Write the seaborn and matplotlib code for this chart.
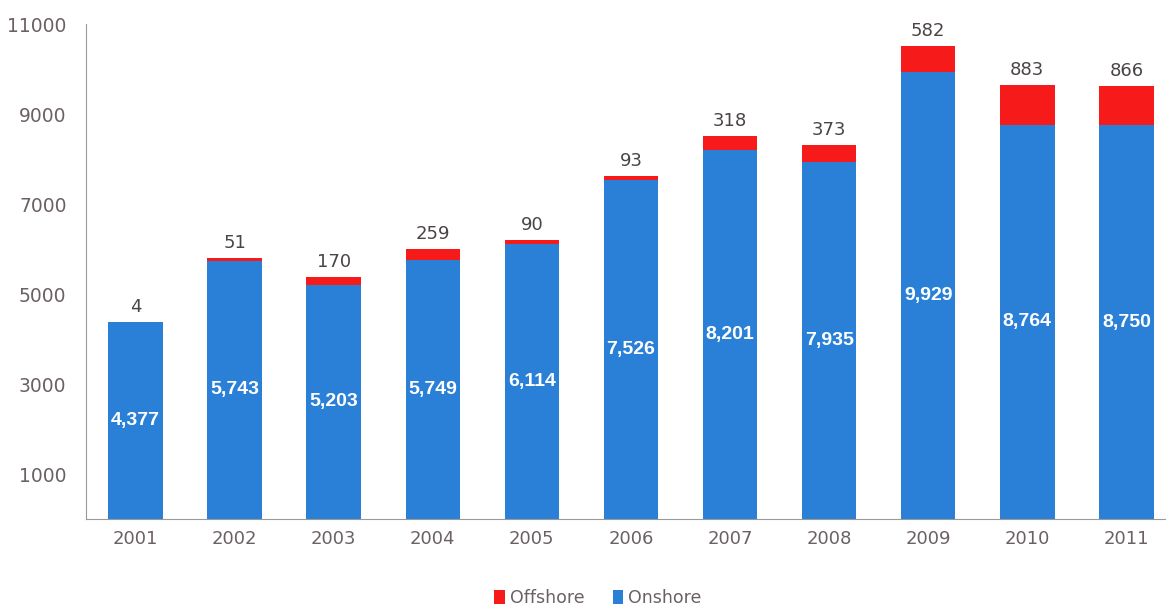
import matplotlib
matplotlib.use("Agg")
import matplotlib.pyplot as plt
import seaborn as sns
import pandas as pd
from matplotlib.patches import Patch
from matplotlib import font_manager

years = ["2001", "2002", "2003", "2004", "2005", "2006", "2007", "2008", "2009", "2010", "2011"]
onshore = [4377, 5743, 5203, 5749, 6114, 7526, 8201, 7935, 9929, 8764, 8750]
offshore = [4, 51, 170, 259, 90, 93, 318, 373, 582, 883, 866]
y_ticks = [1000, 3000, 5000, 7000, 9000, 11000]

BLUE = "#2a80d6"
RED = "#f71a1a"
GREY = "#6b6163"

sns.set_theme(style="white")
plt.rcParams["font.family"] = ["DejaVu Sans"]

installed = {f.name for f in font_manager.fontManager.ttflist}
inner_family = "Liberation Sans Narrow" if "Liberation Sans Narrow" in installed else "Liberation Sans"

df = pd.DataFrame({"year": years, "onshore": onshore, "offshore": offshore})
df["total"] = df["onshore"] + df["offshore"]

fig = plt.figure(figsize=(11.66, 6.08), dpi=100)
ax = fig.add_axes([86 / 1166, 89 / 608, 1 - 86 / 1166, (519 - 24) / 608])

sns.barplot(data=df, x="year", y="total", color=RED, width=0.55, ax=ax,
            saturation=1, edgecolor="none", linewidth=0)
sns.barplot(data=df, x="year", y="onshore", color=BLUE, width=0.55, ax=ax,
            saturation=1, edgecolor="none", linewidth=0)

ax.set_ylim(0, 11000)
ax.set_xlim(-0.5, 10.4)
ax.set_yticks(y_ticks)
ax.set_yticklabels([str(v) for v in y_ticks], color=GREY, fontsize=13.5)
ax.set_xticks(range(len(years)))
ax.set_xticklabels(years, color=GREY, fontsize=13)
ax.set_xlabel("")
ax.set_ylabel("")

# category boundary ticks on the x axis
ax.set_xticks([i + 0.5 for i in range(len(years) - 1)], minor=True)
ax.tick_params(axis="x", which="minor", length=5, width=0.8, color="#9a9a9a", direction="out")
ax.tick_params(axis="x", which="major", length=0, pad=8)
ax.tick_params(axis="y", which="major", length=0, pad=14)

for side in ["top", "right"]:
    ax.spines[side].set_visible(False)
ax.spines["left"].set_color("#9a9a9a")
ax.spines["left"].set_linewidth(0.8)
ax.spines["bottom"].set_color("#9a9a9a")
ax.spines["bottom"].set_linewidth(0.8)

for i, (on, off) in enumerate(zip(onshore, offshore)):
    ax.text(i, on / 2, f"{on:,}", ha="center", va="center", color="white",
            fontsize=14, fontweight="bold", family=inner_family)
    ax.text(i, on + off + 130, f"{off}", ha="center", va="bottom", color="#4a4446",
            fontsize=13)

handles = [Patch(facecolor=RED, edgecolor="none", label="Offshore"),
           Patch(facecolor=BLUE, edgecolor="none", label="Onshore")]
leg = fig.legend(handles=handles, loc="center", bbox_to_anchor=(598 / 1166, 1 - 598 / 608),
                 ncol=2, frameon=False, fontsize=12.5, handlelength=0.6, handleheight=0.9,
                 handletextpad=0.3, columnspacing=1.6)
for t in leg.get_texts():
    t.set_color(GREY)

fig.savefig("out.png", dpi=100)
